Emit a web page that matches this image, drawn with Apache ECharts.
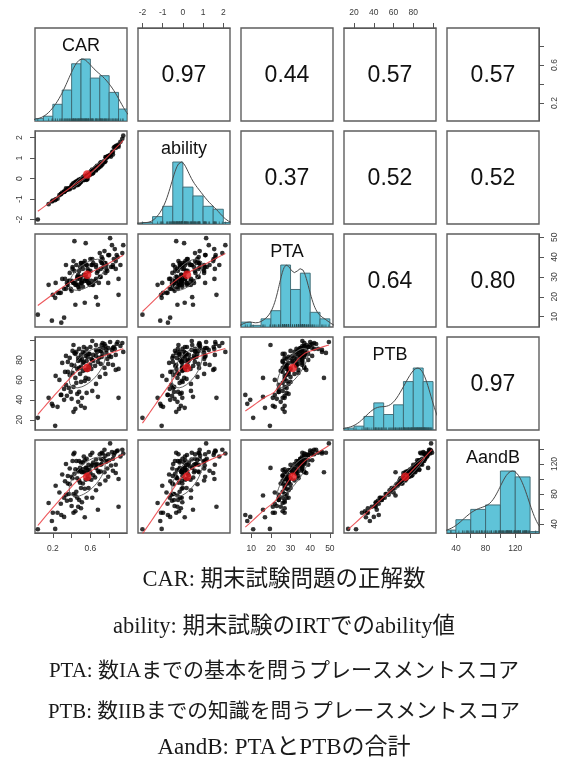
<!DOCTYPE html>
<html><head><meta charset="utf-8">
<script src="https://cdn.jsdelivr.net/npm/echarts@6/dist/echarts.min.js"></script>
<style>html,body{margin:0;padding:0;background:#fff}#c{width:567px;height:763px}</style>
</head><body><div id="c"></div>
<script>
// ---------- data (one entry per student) ----------
const CAR = [0.94,0.81,0.62,0.88,0.72,0.76,0.66,0.85,0.84,0.70,0.79,0.77,0.53,0.92,0.75,0.48,0.83,0.73,0.60,0.89,0.56,0.74,0.42,0.86,0.66,
0.43,0.34,0.41,0.52,0.58,0.63,0.71,0.77,0.82,0.47,0.55,0.61,0.67,0.73,0.50,0.57,0.45,0.80,0.69,0.54,0.71,0.78,0.49,0.59,0.72,0.87,0.38,0.62,0.51,0.95,0.66,0.44,
0.30,0.53,0.60,0.48,0.56,0.65,0.71,0.46,0.58,0.87,0.90,0.52,0.40,0.63,0.75,0.55,0.68,0.43,0.79,0.50,0.61,0.36,0.57,0.84,0.47,
0.23,0.27,0.44,0.55,0.49,0.36,0.38,0.70,0.52,0.41,0.58,0.33,0.76,
0.45,0.37,0.34,0.50,0.42,0.66,0.32,0.54,
0.29,0.90,0.155,0.285,0.48,0.35,0.56,0.40,0.62,0.32,0.46,0.68,0.51,0.39,
0.19,0.20,0.25,0.54,0.44,0.50,0.47,0.04,0.42,0.225];
const ability = [1.95,1.15,0.44,1.62,0.78,0.85,0.46,1.52,1.18,0.60,1.10,1.02,0.10,1.80,0.83,-0.25,1.28,0.81,0.20,1.60,-0.02,0.83,-0.22,1.55,0.43,
-0.33,-0.48,-0.39,0.06,0.15,0.30,0.60,1.05,1.08,-0.30,0.07,0.35,0.62,0.71,-0.16,0.11,-0.15,1.12,0.55,0.12,0.78,1.05,-0.15,0.19,0.67,1.58,-0.52,0.24,-0.05,2.10,0.55,-0.18,
-0.68,-0.07,0.23,-0.05,0.11,0.51,0.77,-0.32,0.19,1.50,1.56,-0.04,-0.33,0.28,0.80,0.11,0.59,-0.38,1.10,-0.03,0.38,-0.50,-0.02,1.32,-0.09,
-1.02,-0.81,-0.27,0.06,-0.20,-0.53,-0.47,0.72,-0.03,-0.28,0.18,-0.62,1.05,
-0.16,-0.48,-0.57,-0.01,-0.43,0.40,-0.65,-0.06,
-0.74,1.66,-1.25,-0.76,-0.24,-0.54,-0.06,-0.41,0.40,-0.63,-0.13,0.50,-0.03,-0.44,
-1.12,-1.08,-0.98,0.09,-0.19,-0.10,-0.27,-2.00,-0.33,-1.05];
const PTA = [42,49.5,36,41,40,37,19.8,39,35,42,41,34,37,36,43,33,46,37,39,40,36,35,38,44,36,
48,36,35,34,33,37,38,36,35,30,31,36,32,39,37,29,36,41,27,38,30,33,35,26,37,34,32,39,28,46,35,27,
29,31,33,26,36,28,34,30,27,38,29,36,28,26,37,29,33,33,27,37,28,26,34,36,31,
27,22,16,47,29,26,28,30,25,34,27,29,32,
26,28,24,30,27,29,24,28,
7,21,26,22,24,27,28,23,26,9.5,29,16,27,24,
8,21,22,17,26,27,25,11,27,19.5];
const PTB = [97,98,99,96,95,94,95,93,92,91,92,90,93,94,96,91,90,97,93,98,91,92,95,91,90,
87,84,89,88,86,85,89,87,83,82,84,81,88,86,85,83,88,84,82,87,89,81,80,86,83,85,82,80,81,88,84,86,
77,78,75,72,79,74,76,71,73,70,71,77,75,79,72,70,78,74,76,73,71,78,70,75,79,
64,60,62,62,66,68,65,63,69,67,61,68,66,
57,52,55,58,53,56,51,59,
45,42,42,45,48,44,47,41,49,40,46,43,42,48,
36,34,33,32,31,34,38,22,28,14];
const AandB = [139,147.5,135,137,135,131,114.8,132,127,133,133,124,130,130,139,124,136,134,132,138,127,127,133,135,126,
135,120,124,122,119,122,127,123,118,112,115,117,120,125,122,112,124,125,109,125,119,114,115,112,120,119,114,119,109,134,119,113,
106,109,108,98,115,102,110,101,100,108,100,113,103,105,109,99,111,107,103,110,99,104,104,111,110,
91,82,78,109,95,94,93,93,94,101,88,97,98,
83,80,79,88,80,85,75,87,
52,63,68,67,72,71,75,64,75,49.5,75,59,69,72,
44,55,55,49,57,61,63,33,55,33.5];

const varNames = ['CAR','ability','PTA','PTB','AandB'];
// correlations printed in the upper panels (row by row)
const corrValues = [0.97,0.44,0.57,0.57, 0.37,0.52,0.52, 0.64,0.80, 0.97];
// axis ranges and ticks
const axisMin = [0.01,-2.22,4.8,9.8,28];
const axisMax = [0.99,2.33,51.6,103,152];
const tickValues = [[0.2,0.4,0.6,0.8],[-2,-1,0,1,2],[10,20,30,40,50],[20,40,60,80,100],[40,60,80,100,120,140]];
const tickLabels = [[0.2,0.6],[-2,-1,0,1,2],[10,20,30,40,50],[20,40,60,80],[40,80,120]];
// histogram breaks
const breaks = [
  [0,0.1,0.2,0.3,0.4,0.5,0.6,0.7,0.8,0.9,1.0],
  [-2.5,-2,-1.5,-1,-0.5,0,0.5,1,1.5,2,2.5],
  [5,10,15,20,25,30,35,40,45,50],
  [10,20,30,40,50,60,70,80,90,100],
  [20,40,60,80,100,120,140,160]
];
const captionLines = ['CAR: 期末試験問題の正解数','ability: 期末試験のIRTでのability値','PTA: 数IAまでの基本を問うプレースメントスコア','PTB: 数IIBまでの知識を問うプレースメントスコア','AandB: PTAとPTBの合計'];

// ---------- helpers ----------
const vars = [CAR, ability, PTA, PTB, AandB];
const mean = a => a.reduce((s,v)=>s+v,0)/a.length;
const sd = a => { const m = mean(a); return Math.sqrt(a.reduce((s,v)=>s+(v-m)*(v-m),0)/(a.length-1)); };
const corr = (a,b) => { const ma=mean(a), mb=mean(b); let sab=0,saa=0,sbb=0; for(let k=0;k<a.length;k++){sab+=(a[k]-ma)*(b[k]-mb);saa+=(a[k]-ma)**2;sbb+=(b[k]-mb)**2;} return sab/Math.sqrt(saa*sbb); };
function quant(a,p){ const s=a.slice().sort((x,y)=>x-y); const h=(s.length-1)*p; const lo=Math.floor(h); return s[lo]+(h-lo)*((s[lo+1]!==undefined?s[lo+1]:s[lo])-s[lo]); }
function histCounts(a, br){
  const c = new Array(br.length-1).fill(0);
  a.forEach(v=>{ for(let b=0;b<br.length-1;b++){ const last=b===br.length-2; if(v>=br[b] && (v<br[b+1] || (last && v<=br[b+1]))){c[b]++;break;} } });
  const mx = Math.max(...c);
  return c.map((n,b)=>[br[b],br[b+1],n/mx]);
}
function kde(a){
  const n=a.length; const s=sd(a); const iqr=quant(a,0.75)-quant(a,0.25);
  const bw = 1.06*Math.min(s, iqr/1.34)*Math.pow(n,-0.2);
  const lo=Math.min(...a)-3*bw, hi=Math.max(...a)+3*bw; const pts=[]; const M=240;
  for(let k=0;k<=M;k++){ const x=lo+(hi-lo)*k/M; let y=0; a.forEach(v=>{const u=(x-v)/bw; y+=Math.exp(-0.5*u*u);}); pts.push([x,y]); }
  const my = Math.max(...pts.map(p=>p[1]));
  return pts.map(p=>[p[0],p[1]/my]);
}
function loess(xs, ys, span){
  const n=xs.length, q=Math.floor(n*span);
  let rw = new Array(n).fill(1);
  const fitAt=(x0)=>{
    const d=xs.map(x=>Math.abs(x-x0)); const sd_=d.slice().sort((a,b)=>a-b); let h=sd_[q-1]; if(h<=0)h=1e-9; h*=1.0000001;
    let sw=0,sx=0,sy=0,sxx=0,sxy=0;
    for(let k=0;k<n;k++){ const u=d[k]/h; if(u>=1)continue; const w=Math.pow(1-u*u*u,3)*rw[k]; sw+=w;sx+=w*xs[k];sy+=w*ys[k];sxx+=w*xs[k]*xs[k];sxy+=w*xs[k]*ys[k]; }
    const mx=sx/sw, my=sy/sw, vx=sxx/sw-mx*mx; const b = vx>1e-12 ? (sxy/sw-mx*my)/vx : 0; return my+b*(x0-mx);
  };
  for(let it=0;it<3;it++){
    const res=xs.map((x,k)=>ys[k]-fitAt(x)); const s=quant(res.map(Math.abs),0.5);
    rw=res.map(r=>{const u=r/(6*s); return Math.abs(u)<1?(1-u*u)**2:0;});
  }
  const lo=Math.min(...xs), hi=Math.max(...xs), out=[];
  for(let k=0;k<47;k++){ const x=lo+(hi-lo)*k/46; out.push([x,fitAt(x)]); }
  return out;
}
function ellipse(xs, ys){
  const mx=mean(xs), my=mean(ys), sx=sd(xs), sy=sd(ys), r=corr(xs,ys);
  const th = r!==0 ? Math.sign(r)/Math.SQRT2 : 1/Math.SQRT2; const a=Math.sqrt(1+r), b=Math.sqrt(1-r);
  const pts=[]; for(let k=0;k<=51;k++){ const ang=k*2*Math.PI/51; const c=Math.cos(ang), s=Math.sin(ang);
    const ex=c*a*th - s*b*th, ey=c*a*th + s*b*th; pts.push([ex*sx+mx, ey*sy+my]); }
  return pts;
}

// ---------- layout ----------
const L0=35, T0=28, STEP=103, PW=92, PH=93;
const grids=[], xAxes=[], yAxes=[], series=[], graphics=[];
const axisFont='"Liberation Sans", Arial, sans-serif';
function axisCfg(isX, g, vi, pos){
  const ax = {type:'value', gridIndex:g, min:axisMin[vi], max:axisMax[vi], splitLine:{show:false},
    axisLine:{show:false}, axisTick:{show:false}, axisLabel:{show:false}};
  if(pos){
    ax.position=pos;
    ax.axisLine={show:true,onZero:false,lineStyle:{color:'#5a5a5a',width:1}};
    ax.axisTick={show:true,inside:false,length:5,customValues:tickValues[vi],lineStyle:{color:'#555',width:1}};
    ax.axisLabel={show:true,customValues:tickLabels[vi],fontSize:8.5,color:'#3a3a3a',margin:11,rotate:isX?0:90,fontFamily:axisFont};
  }
  return ax;
}
const topX={'0,1':1,'0,3':3}, bottomX={'4,0':1,'4,2':1,'4,4':1}, leftY={'1,0':1,'3,0':1}, rightY={'0,4':1,'2,4':1};
let ci=0;
for(let i=0;i<5;i++){
  for(let j=0;j<5;j++){
    const g=i*5+j; const key=i+','+j;
    const left=L0+STEP*j, top=T0+STEP*i;
    grids.push({left:left,top:top,width:PW,height:PH,show:true,borderColor:'#5e5e5e',borderWidth:1.4,backgroundColor:'rgba(0,0,0,0)'});
    xAxes.push(axisCfg(true,g,j, topX[key]?'top':(bottomX[key]?'bottom':null)));
    if(i===j){
      yAxes.push({type:'value',gridIndex:g,min:0,max:1.5,show:false});
      series.push({type:'custom',xAxisIndex:g,yAxisIndex:g,clip:true,silent:true,z:2,
        data:histCounts(vars[i],breaks[i]),encode:{x:[0,1],y:2},
        renderItem:(params,api)=>{
          const p0=api.coord([api.value(0),0]), p1=api.coord([api.value(1),api.value(2)]); const cs=params.coordSys;
          const x0=Math.max(Math.min(p0[0],p1[0]),cs.x), x1=Math.min(Math.max(p0[0],p1[0]),cs.x+cs.width);
          if(x1<=x0) return null;
          return {type:'rect',shape:{x:x0,y:p1[1],width:x1-x0,height:p0[1]-p1[1]},style:{fill:'#5fc3d8',stroke:'#3b6670',lineWidth:0.9}};
        }});
      series.push({type:'line',xAxisIndex:g,yAxisIndex:g,data:kde(vars[i]),showSymbol:false,silent:true,z:3,clip:true,
        lineStyle:{color:'#4a4a4a',width:1}});
      series.push({type:'custom',xAxisIndex:g,yAxisIndex:g,silent:true,z:4,clip:true,
        data:vars[i].map(v=>[v]),encode:{x:0},
        renderItem:(params,api)=>{const p=api.coord([api.value(0),0]); return {type:'line',shape:{x1:p[0],y1:p[1],x2:p[0],y2:p[1]-2.5},style:{stroke:'#2b4f55',lineWidth:0.7}};}});
      graphics.push({type:'text',x:left+PW/2,y:top+18,z:10,style:{text:varNames[i],fill:'#111',font:'18px '+axisFont,align:'center',verticalAlign:'middle'}});
    } else if(i>j){
      yAxes.push(axisCfg(false,g,i, leftY[key]?'left':null));
      const xs=vars[j], ys=vars[i];
      series.push({type:'scatter',xAxisIndex:g,yAxisIndex:g,data:xs.map((x,k)=>[x,ys[k]]),symbolSize:4.7,silent:true,z:2,
        itemStyle:{color:'#000'}});
      series.push({type:'line',xAxisIndex:g,yAxisIndex:g,data:ellipse(xs,ys),showSymbol:false,silent:true,z:3,
        lineStyle:{color:'#666',width:1}});
      series.push({type:'line',xAxisIndex:g,yAxisIndex:g,data:loess(xs,ys,0.75),showSymbol:false,silent:true,z:4,
        lineStyle:{color:'#ea3b40',width:1.1,opacity:0.85}});
      series.push({type:'scatter',xAxisIndex:g,yAxisIndex:g,data:[[mean(xs),mean(ys)]],symbolSize:8.5,silent:true,z:5,
        itemStyle:{color:'#e5191d'}});
    } else {
      yAxes.push(axisCfg(false,g,i, rightY[key]?'right':null));
      graphics.push({type:'text',x:left+PW/2,y:top+PH/2+1,z:10,style:{text:corrValues[ci].toFixed(2),fill:'#111',font:'23px '+axisFont,align:'center',verticalAlign:'middle'}});
      ci++;
    }
  }
}
// extra right axis for AandB on the last diagonal panel
yAxes.push(axisCfg(false,24,4,'right'));

const capY=[580,627,671,713,748];
const capSize=[22.5,22.5,21,20.8,23];
captionLines.forEach((t,k)=>{
  graphics.push({type:'text',x:284,y:capY[k],z:10,style:{text:t,fill:'#1a1a1a',font:capSize[k]+'px "Liberation Serif", "DejaVu Serif", "Noto Sans CJK JP", serif',align:'center',verticalAlign:'middle'}});
});

const chart = echarts.init(document.getElementById('c'), null, {renderer:'canvas'});
chart.setOption({animation:false, backgroundColor:'#fff', grid:grids, xAxis:xAxes, yAxis:yAxes, series:series, graphic:graphics});
</script></body></html>
